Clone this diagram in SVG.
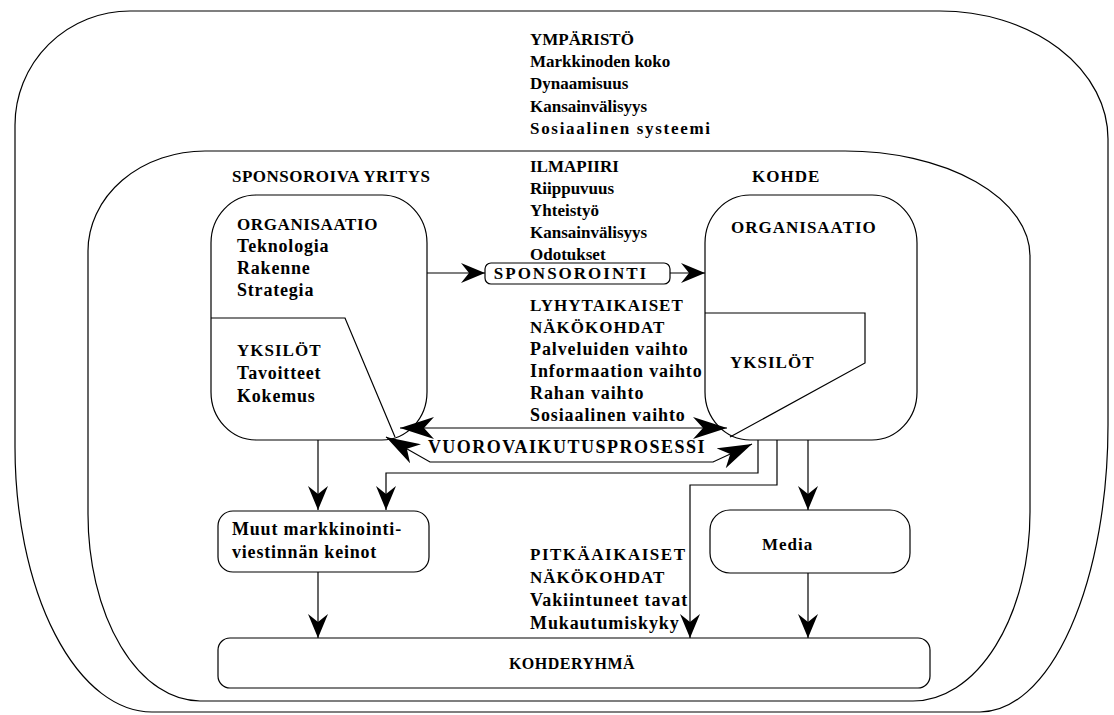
<svg xmlns="http://www.w3.org/2000/svg" width="1114" height="715" viewBox="0 0 1114 715">
<style>
.ln{fill:none;stroke:#000;stroke-width:1.2}
.bx{fill:#fff;stroke:#000;stroke-width:1.2}
.t{font-size:17px;font-weight:bold;fill:#000}
.tm{font-size:18px;font-weight:bold;fill:#000;letter-spacing:0.9px}
.tc{font-size:17px;font-weight:bold;fill:#000;letter-spacing:1px}
.tb{font-size:18px;font-weight:bold;fill:#000;letter-spacing:0.8px}
</style>
<defs>
<marker id="ah" viewBox="0 0 24 20" refX="24" refY="10" markerWidth="24" markerHeight="20" markerUnits="userSpaceOnUse" orient="auto">
<path d="M0,0 L24,10 L0,20 L8,10 Z" fill="#000"/>
</marker>
<marker id="ahb" viewBox="0 0 34 22" refX="34" refY="11" markerWidth="34" markerHeight="22" markerUnits="userSpaceOnUse" orient="auto-start-reverse">
<path d="M0,0 L34,11 L0,22 L10,11 Z" fill="#000"/>
</marker>
</defs>
<rect width="1114" height="715" fill="#fff"/>
<g font-family="Liberation Serif, Times New Roman, DejaVu Serif, serif">
<g id="environment">
<path class="ln" d="M130,11 L940,11 A168,128 0 0 1 1108,139 L1108,425 A128,287 0 0 1 980,712 L152,712 A137,265 0 0 1 15,447 L15,125 A115,114 0 0 1 130,11 Z"/>
<text class="t" x="530" y="45">YMPÄRISTÖ</text>
<text class="t" x="530" y="67">Markkinoden koko</text>
<text class="t" x="530" y="89">Dynaamisuus</text>
<text class="t" x="530" y="112">Kansainvälisyys</text>
<text class="t" x="530" y="134" textLength="180" lengthAdjust="spacing">Sosiaalinen systeemi</text>
</g>
<g id="climate">
<path class="ln" d="M205,151 L845,151 A185,105 0 0 1 1030,256 L1030,512 A117,189 0 0 1 913,701 L200,701 A112,187 0 0 1 88,514 L88,251 A117,100 0 0 1 205,151 Z"/>
<text class="tc" x="232" y="182" style="letter-spacing:0.5px">SPONSOROIVA YRITYS</text>
<text class="tc" x="752" y="182">KOHDE</text>
<text class="t" x="530" y="172">ILMAPIIRI</text>
<text class="t" x="530" y="194">Riippuvuus</text>
<text class="t" x="530" y="216">Yhteistyö</text>
<text class="t" x="530" y="238">Kansainvälisyys</text>
<text class="t" x="530" y="260">Odotukset</text>
<text class="tc" x="530" y="311">LYHYTAIKAISET</text>
<text class="tc" x="530" y="333">NÄKÖKOHDAT</text>
<text class="tm" x="530" y="355">Palveluiden vaihto</text>
<text class="tm" x="530" y="377">Informaation vaihto</text>
<text class="tm" x="530" y="399">Rahan vaihto</text>
<text class="tm" x="530" y="421">Sosiaalinen vaihto</text>
<text class="tc" x="530" y="560" style="letter-spacing:1.5px">PITKÄAIKAISET</text>
<text class="tc" x="530" y="583">NÄKÖKOHDAT</text>
<text class="tm" x="530" y="606">Vakiintuneet tavat</text>
<text class="tm" x="530" y="629">Mukautumiskyky</text>
</g>
<g id="sponsor">
<rect class="bx" x="211" y="195" width="216" height="245" rx="45" ry="48"/>
<path class="ln" d="M211,318 L345,318 L395,437"/>
<text class="tc" x="237" y="230" style="letter-spacing:0.6px">ORGANISAATIO</text>
<text class="tb" x="237" y="252">Teknologia</text>
<text class="tb" x="237" y="274">Rakenne</text>
<text class="tb" x="237" y="296">Strategia</text>
<text class="tc" x="237" y="356">YKSILÖT</text>
<text class="tb" x="237" y="379">Tavoitteet</text>
<text class="tb" x="237" y="402">Kokemus</text>
</g>
<g id="kohde">
<rect class="bx" x="705" y="195" width="212" height="245" rx="45" ry="48"/>
<path class="ln" d="M705,313 L865,313 L865,363 L730,437"/>
<text class="tc" x="731" y="233">ORGANISAATIO</text>
<text class="tc" x="730" y="368">YKSILÖT</text>
</g>
<g id="sponsorointi">
<rect class="bx" x="485" y="263" width="185" height="21" rx="6"/>
<text class="tc" x="571" y="279" text-anchor="middle" style="letter-spacing:2px">SPONSOROINTI</text>
</g>
<g id="vuorovaikutus">
<text class="tc" x="567" y="453" text-anchor="middle" style="font-size:18px;letter-spacing:1.5px">VUOROVAIKUTUSPROSESSI</text>
</g>
<g id="muut">
<rect class="bx" x="218" y="511" width="211" height="61" rx="15"/>
<text class="tb" x="232" y="535">Muut markkinointi-</text>
<text class="tb" x="232" y="558">viestinnän keinot</text>
</g>
<g id="media">
<rect class="bx" x="710" y="510" width="200" height="63" rx="20"/>
<text class="tc" x="762" y="550">Media</text>
</g>
<g id="kohderyhma">
<rect class="bx" x="218" y="638" width="712" height="50" rx="12"/>
<text class="t" x="572" y="669" text-anchor="middle" style="font-size:16px;letter-spacing:0.5px">KOHDERYHMÄ</text>
</g>
</g>
<g id="connectors">
<path class="ln" d="M427,273 L485,273" marker-end="url(#ah)"/>
<path class="ln" d="M670,273 L705,273" marker-end="url(#ah)"/>
<path class="ln" d="M400,428 L727,428" marker-start="url(#ahb)" marker-end="url(#ahb)"/>
<path class="ln" d="M386,437 L430,462 L713,462 L752,444" marker-start="url(#ahb)" marker-end="url(#ahb)"/>
<path class="ln" d="M318,440 L318,510" marker-end="url(#ah)"/>
<path class="ln" d="M758,440 L758,473 L386,473 L386,510" marker-end="url(#ah)"/>
<path class="ln" d="M777,440 L777,485 L690,485 L690,638" marker-end="url(#ah)"/>
<path class="ln" d="M808,440 L808,510" marker-end="url(#ah)"/>
<path class="ln" d="M318,572 L318,638" marker-end="url(#ah)"/>
<path class="ln" d="M808,573 L808,638" marker-end="url(#ah)"/>
</g>
</svg>
